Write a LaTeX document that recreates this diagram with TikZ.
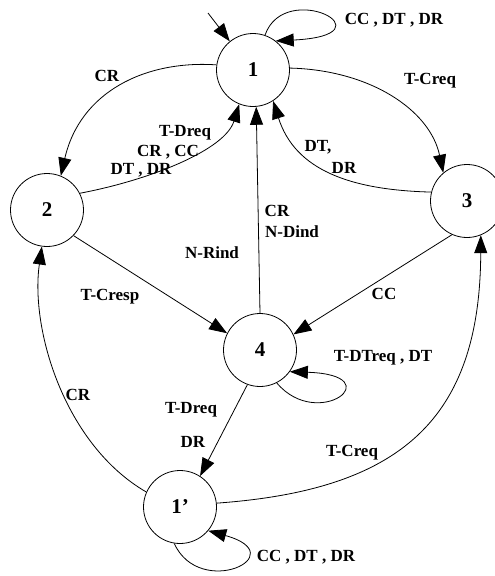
\documentclass[tikz,border=0pt]{standalone}
\usepackage{fontspec}
\setmainfont{Liberation Serif}
\usetikzlibrary{arrows.meta}

\begin{document}
\begin{tikzpicture}[x=1pt,y=-1pt,
  stnode/.style={circle,draw,line width=0.8pt,minimum size=73pt,inner sep=0pt,
    font=\fontsize{21}{21}\selectfont\bfseries},
  lbl/.style={font=\fontsize{17}{17}\selectfont\bfseries,inner sep=0pt},
  trans/.style={line width=0.8pt,-{Triangle[length=18pt,width=13pt]}},
]
\useasboundingbox (0,0) rectangle (495,576);

% states
\node[stnode] (n1)  at (253,70)  {1};
\node[stnode] (n2)  at (47,210)  {2};
\node[stnode] (n3)  at (467,201) {3};
\node[stnode] (n4)  at (260,350) {4};
\node[stnode] (n1p) at (180,507) {1'};

% initial arrow
\coordinate (init) at (208,13);
\draw[trans] (init) -- (n1.129);

% self loop on 1
\draw[trans] (n1.71) .. controls (285,-22) and (395,35) .. (n1.52);
\node[lbl] (l1) at (394,20) {CC , DT , DR};

% 1 -> 2
\draw[trans] (n1.172) .. controls (145,60) and (80,92) .. (n2.68);
\node[lbl] (l2) at (107,76) {CR};

% 2 -> 1
\draw[trans] (n2.27) .. controls (150,180) and (225,150) .. (n1.248);
\node[lbl] (l3a) at (185,133) {T-Dreq};
\node[lbl] (l3b) at (168,152) {CR , CC};
\node[lbl] (l3c) at (141,170) {DT , DR};

% 1 -> 3
\draw[trans] (n1.3) .. controls (370,70) and (430,110) .. (n3.130);
\node[lbl] (l4) at (430,81) {T-Creq};

% 3 -> 1
\draw[trans] (n3.166) .. controls (350,190) and (295,170) .. (n1.303);
\node[lbl] (l5a) at (318,147) {DT,};
\node[lbl] (l5b) at (344,168) {DR};

% 4 -> 1
\draw[trans] (n4.north) -- (n1.-85);
\node[lbl] (l6a) at (277,211) {CR};
\node[lbl] (l6b) at (292,232) {N-Dind};
\node[lbl] (l6c) at (212,253) {N-Rind};

% 2 -> 4
\draw[trans] (n2.-44) -- (n4.153);
\node[lbl] (l7) at (110,297) {T-Cresp};

% 3 -> 4
\draw[trans] (n3.246) -- (n4.25);
\node[lbl] (l8) at (384,294) {CC};

% self loop on 4
\draw[trans] (n4.-63) .. controls (318,432) and (392,375) .. (n4.-36);
\node[lbl] (l9) at (383,358) {T-DTreq , DT};

% 4 -> 1'
\draw[trans] (n4.-110) -- (n1p.57);
\node[lbl] (l10a) at (191,410) {T-Dreq};
\node[lbl] (l10b) at (193,442) {DR};

% 1' -> 2
\draw[trans] (n1p.156) .. controls (65,445) and (30,330) .. (n2.262);
\node[lbl] (l11) at (78,395) {CR};

% 1' -> 3
\draw[trans] (n1p.6) .. controls (400,490) and (480,420) .. (n3.292);
\node[lbl] (l12) at (352,453) {T-Creq};

% self loop on 1'
\draw[trans] (n1p.-99) .. controls (200,600) and (295,555) .. (n1p.-40);
\node[lbl] (l13) at (306,557) {CC , DT , DR};
\end{tikzpicture}
\end{document}
